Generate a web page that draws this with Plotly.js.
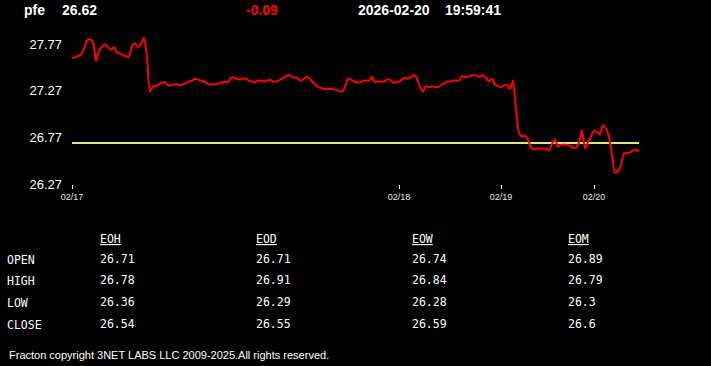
<!DOCTYPE html>
<html>
<head>
<meta charset="utf-8">
<script src="https://cdn.plot.ly/plotly-3.0.1.min.js"></script>
<style>
html,body{margin:0;padding:0;background:#000;}
#chart{width:711px;height:366px;}
</style>
</head>
<body>
<div id="chart"></div>
<script>
// ---- data ----
const symbol = 'pfe';
const lastPrice = '26.62';
const change = '-0.09';
const dateStr = '2026-02-20';
const timeStr = '19:59:41';
const prevClose = 26.71;

const prices = [
 27.62,27.63,27.64,27.66,27.72,27.81,27.82,27.80,27.59,27.70,
 27.74,27.77,27.74,27.71,27.74,27.68,27.67,27.65,27.64,27.64,
 27.75,27.78,27.74,27.77,27.84,27.63,27.26,27.32,27.32,27.34,
 27.36,27.36,27.33,27.33,27.34,27.34,27.33,27.34,27.35,27.37,
 27.38,27.40,27.39,27.38,27.37,27.35,27.34,27.34,27.34,27.35,
 27.36,27.37,27.36,27.41,27.41,27.40,27.39,27.40,27.40,27.38,
 27.37,27.36,27.38,27.38,27.37,27.38,27.39,27.37,27.37,27.38,
 27.40,27.42,27.44,27.43,27.41,27.41,27.38,27.39,27.42,27.41,
 27.37,27.34,27.31,27.30,27.29,27.29,27.29,27.29,27.28,27.27,
 27.26,27.31,27.40,27.39,27.37,27.36,27.36,27.38,27.38,27.38,
 27.42,27.36,27.37,27.37,27.37,27.39,27.39,27.36,27.36,27.37,
 27.39,27.41,27.40,27.42,27.44,27.40,27.31,27.26,27.32,27.31,
 27.32,27.31,27.31,27.33,27.35,27.37,27.37,27.38,27.38,27.38,
 27.43,27.42,27.42,27.43,27.44,27.43,27.42,27.44,27.41,27.37,
 27.40,27.34,27.32,27.31,27.33,27.33,27.29,27.38,27.07,26.82,
 26.78,26.79,26.75,26.66,26.64,26.65,26.65,26.65,26.65,26.63,
 26.70,26.75,26.67,26.69,26.69,26.69,26.68,26.66,26.66,26.71,
 26.85,26.65,26.72,26.78,26.84,26.83,26.80,26.90,26.86,26.78,
 26.58,26.39,26.41,26.47,26.60,26.60,26.61,26.63,26.64,26.62
];
const steps = prices.map((_, i) => i);

const yTickVals = [26.27, 26.77, 27.27, 27.77];
const xTickIdx = [0, 109, 143, 174];
const xTickLabels = ['02/17', '02/18', '02/19', '02/20'];

const tableCols = ['EOH', 'EOD', 'EOW', 'EOM'];
const rowLabels = ['OPEN', 'HIGH', 'LOW', 'CLOSE'];
const eohVals = [26.71, 26.78, 26.36, 26.54];
const eodVals = [26.71, 26.91, 26.29, 26.55];
const eowVals = [26.74, 26.84, 26.28, 26.59];
const eomVals = [26.89, 26.79, 26.3, 26.6];
const colVals = [eohVals, eodVals, eowVals, eomVals];

const copyright = 'Fracton copyright 3NET LABS LLC 2009-2025.All rights reserved.';

// ---- layout helpers (pixel -> paper) ----
const W = 711, H = 366;
const M = {l: 72, r: 72, t: 34, b: 182};
const PW = W - M.l - M.r, PH = H - M.t - M.b;
const px = X => (X - M.l) / PW;
const py = Y => (H - M.b - Y) / PH;

const annotations = [];
function txt(text, X, Y, opts) {
  annotations.push(Object.assign({
    text: text, xref: 'paper', yref: 'paper', x: px(X - 2), y: py(Y),
    xanchor: 'left', yanchor: 'middle', showarrow: false,
    font: {family: 'Liberation Sans, Arial, sans-serif', size: 14, color: '#ffffff'}
  }, opts || {}));
}
const boldFont = c => ({family: 'Liberation Sans, Arial, sans-serif', size: 14, color: c, weight: 'bold'});
txt('<b>' + symbol + '</b>', 24, 9.5, {font: boldFont('#ffffff')});
txt('<b>' + lastPrice + '</b>', 62, 9.5, {font: boldFont('#ffffff')});
txt('<b>' + change + '</b>', 246, 9.5, {font: boldFont('#ff0000')});
txt('<b>' + dateStr + '</b>', 358, 9.5, {font: boldFont('#ffffff')});
txt('<b>' + timeStr + '</b>', 445, 9.5, {font: boldFont('#ffffff')});

const mono = {family: 'DejaVu Sans Mono, monospace', size: 11.5, color: '#ffffff'};
const colX = [99.5, 256, 412, 568];
const rowY = [259.5, 281, 302.5, 324.5];
tableCols.forEach((c, j) => txt('<u>' + c + '</u>', colX[j], 238.5, {font: mono}));
rowLabels.forEach((r, k) => txt(r, 7, rowY[k], {font: mono}));
colVals.forEach((vals, j) => vals.forEach((v, k) => txt(String(v), colX[j], rowY[k] - 1, {font: mono})));

txt(copyright, 9, 355, {font: {family: 'Liberation Sans, Arial, sans-serif', size: 11, color: '#ffffff'}});

const traces = [
  {x: [steps[0], steps[steps.length - 1]], y: [prevClose, prevClose], mode: 'lines',
   line: {color: '#dce67c', width: 2}, hoverinfo: 'skip'},
  {x: steps, y: prices, mode: 'lines', line: {color: '#ff0000', width: 2, shape: 'spline', smoothing: 0.6}}
];

const layout = {
  width: W, height: H,
  paper_bgcolor: '#000000', plot_bgcolor: '#000000',
  margin: M, showlegend: false,
  xaxis: {
    range: [0, steps.length - 1], tickvals: xTickIdx, ticktext: xTickLabels,
    showgrid: false, zeroline: false, showline: false,
    ticks: 'outside', ticklen: 4, tickwidth: 1, tickcolor: '#ffffff',
    tickfont: {family: 'Liberation Sans, Arial, sans-serif', size: 9, color: '#e6e6e6'}
  },
  yaxis: {
    range: [26.27, 27.88], tickvals: yTickVals,
    showgrid: false, zeroline: false, showline: false, ticks: '',
    ticklabelstandoff: 9,
    tickfont: {family: 'Liberation Sans, Arial, sans-serif', size: 13, color: '#ffffff'}
  },
  annotations: annotations
};

Plotly.newPlot('chart', traces, layout, {staticPlot: true, displayModeBar: false});
</script>
</body>
</html>
